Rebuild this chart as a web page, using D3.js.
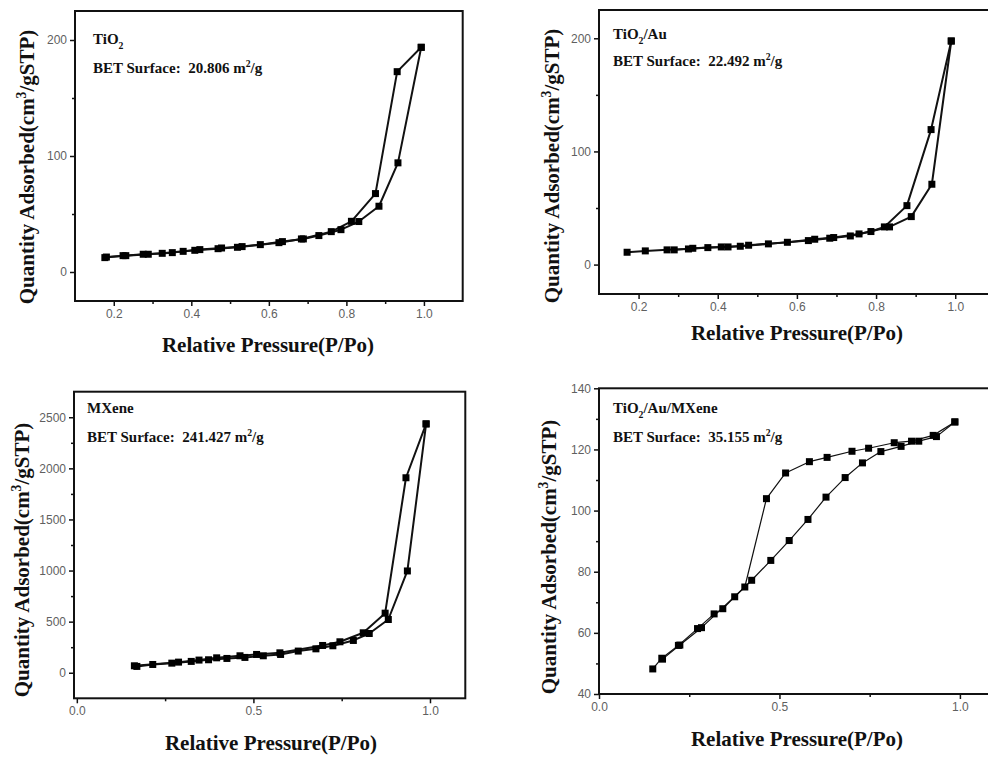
<!DOCTYPE html>
<html><head><meta charset="utf-8">
<script src="https://cdn.jsdelivr.net/npm/d3@7"></script>
<style>
html,body{margin:0;padding:0;background:#fff;}
svg{display:block;}
.tick text{font-family:"Liberation Sans",Arial,sans-serif;font-size:12px;fill:#5f5f5f;}
</style></head>
<body>
<svg id="c" width="988" height="758"></svg>
<script>
// ---------- DATA ----------
// TiO2
const tio2AdsP = [0.177,0.224,0.276,0.325,0.379,0.422,0.478,0.531,0.578,0.635,0.689,0.729,0.786,0.832,0.884,0.933,0.993];
const tio2AdsQ = [12.4,14.1,15.3,16.1,17.8,19.3,20.7,21.9,23.6,26.2,28.5,31.4,36.5,43.5,56.7,94.1,193.7];
const tio2DesP = [0.993,0.931,0.875,0.813,0.761,0.684,0.626,0.519,0.469,0.409,0.351,0.289,0.231,0.181];
const tio2DesQ = [193.7,172.7,67.6,43.7,34.8,28.5,25.3,21.3,20.1,18.7,16.7,15.3,14.1,12.9];
// TiO2/Au
const auAdsP = [0.171,0.217,0.272,0.326,0.375,0.426,0.478,0.576,0.645,0.693,0.757,0.834,0.889,0.941,0.990];
const auAdsQ = [10.9,12.1,13.0,13.8,15.0,15.6,17.1,19.7,22.4,23.9,27.1,33.3,42.4,71.0,197.6];
const auDesP = [0.990,0.939,0.878,0.821,0.787,0.735,0.683,0.629,0.528,0.457,0.409,0.337,0.290];
const auDesQ = [197.6,119.3,52.1,33.3,29.2,25.3,23.3,21.2,18.3,16.2,15.6,14.4,13.0];
// MXene
const mxAdsP = [0.170,0.215,0.269,0.324,0.373,0.425,0.476,0.528,0.577,0.627,0.677,0.725,0.783,0.828,0.882,0.936,0.989];
const mxAdsQ = [62,81,94,111,127,140,150,166,179,212,234,264,316,384,521,996,2435];
const mxDesP = [0.989,0.932,0.873,0.811,0.745,0.696,0.575,0.509,0.462,0.396,0.346,0.288,0.163];
const mxDesQ = [2435,1908,583,391,303,267,195,179,166,146,124,104,68];
// TiO2/Au/MXene
const tamAdsP = [0.149,0.174,0.220,0.273,0.319,0.343,0.376,0.423,0.476,0.527,0.579,0.629,0.682,0.730,0.781,0.837,0.886,0.935,0.986];
const tamAdsQ = [48.2,51.7,55.9,61.4,66.2,67.9,71.8,77.2,83.7,90.2,97.1,104.4,110.8,115.6,119.3,121.0,122.7,124.2,129.0];
const tamDesP = [0.986,0.926,0.866,0.818,0.747,0.701,0.632,0.583,0.517,0.464,0.404,0.284,0.224,0.176];
const tamDesQ = [129.0,124.6,122.7,122.2,120.4,119.4,117.4,116.0,112.3,103.9,75.0,61.7,56.0,51.4];

// tick values
const xTicksA = [0.2,0.4,0.6,0.8,1.0], xMinorA = [0.3,0.5,0.7,0.9];
const xTicksB = [0.0,0.5,1.0], xMinorB = [0.25,0.75];
const yTicksTiO2 = [0,100,200], yMinorTiO2 = [50,150];
const yTicksMX = [0,500,1000,1500,2000,2500], yMinorMX = [250,750,1250,1750,2250];
const yTicksTAM = [40,60,80,100,120,140], yMinorTAM = [50,70,90,110,130];

const sampleNames = ["TiO|2", "TiO|2|/Au", "MXene", "TiO|2|/Au/MXene"];
const betValues = ["20.806","22.492","241.427","35.155"];

// ---------- DRAW ----------
const SERIF = "'Liberation Serif','Times New Roman','DejaVu Serif',serif";
const svg = d3.select("#c");
const zip = (a,b) => a.map((v,i)=>[v,b[i]]);

function richText(sel, parts, size){
  const shiftOf = mm => mm===1 ? size*0.3 : (mm===2 ? -size*0.38 : 0);
  parts.forEach(([t,m],i)=>{
    const prev = i>0 ? parts[i-1][1] : 0;
    const dy = shiftOf(m) - shiftOf(prev);
    sel.append("tspan").attr("dy", dy).attr("font-size", m? size*0.65 : size).text(t);
  });
}

function serifText(g, size){
  return g.append("text").attr("font-family",SERIF).attr("font-weight","bold")
    .attr("fill","#111").attr("font-size",size);
}

function panel(o){
  const g = svg.append("g");
  const x = d3.scaleLinear().domain(o.xd).range([o.l, o.r]);
  const y = d3.scaleLinear().domain(o.yd).range([o.b, o.t]);

  g.append("g").attr("transform",`translate(0,${o.b})`)
    .call(d3.axisBottom(x).tickValues(o.xMinor).tickSize(3).tickFormat(""))
    .call(a=>a.select(".domain").remove());
  g.append("g").attr("transform",`translate(${o.l},0)`)
    .call(d3.axisLeft(y).tickValues(o.yMinor).tickSize(3).tickFormat(""))
    .call(a=>a.select(".domain").remove());
  g.append("g").attr("transform",`translate(0,${o.b})`)
    .call(d3.axisBottom(x).tickValues(o.xTicks).tickSize(5).tickPadding(3).tickFormat(d3.format(".1f")))
    .call(a=>a.select(".domain").remove());
  g.append("g").attr("transform",`translate(${o.l},0)`)
    .call(d3.axisLeft(y).tickValues(o.yTicks).tickSize(5).tickPadding(3).tickFormat(d3.format("d")))
    .call(a=>a.select(".domain").remove());
  g.selectAll(".tick line").attr("stroke","#111").attr("stroke-width",1.5);

  g.append("rect").attr("x",o.l).attr("y",o.t).attr("width",o.r-o.l).attr("height",o.b-o.t)
    .attr("fill","none").attr("stroke","#111").attr("stroke-width",2);

  const line = d3.line().x(d=>x(d[0])).y(d=>y(d[1]));
  o.series.forEach(s=>{
    g.append("path").datum(s).attr("d",line).attr("fill","none")
      .attr("stroke","#111").attr("stroke-width",o.lw).attr("stroke-linejoin","round");
  });
  const ms = 7;
  o.series.forEach(s=>{
    g.selectAll(null).data(s).enter().append("rect")
      .attr("x",d=>x(d[0])-ms/2).attr("y",d=>y(d[1])-ms/2)
      .attr("width",ms).attr("height",ms).attr("fill","#000");
  });

  const fs = 15;
  const nameParts = o.name.split("|").map((t,i)=>[t, i===1?1:0]);
  const t1 = serifText(g,fs).attr("x",o.ax).attr("y",o.ay1);
  richText(t1, nameParts, fs);
  const t2 = serifText(g,fs).attr("x",o.ax).attr("y",o.ay2);
  richText(t2, [["BET Surface:\u00a0\u00a0"+o.bet+" m",0],["2",2],["/g",0]], fs);

  serifText(g,21).attr("text-anchor","middle")
    .attr("x",o.xtx).attr("y",o.xty).text("Relative Pressure(P/Po)");
  const yt = serifText(g,21).attr("text-anchor","middle")
    .attr("transform",`translate(${o.ytx},${o.yty}) rotate(-90)`);
  richText(yt, [["Quantity Adsorbed(cm",0],["3",2],["/gSTP)",0]], 21);
}

panel({l:75,r:462.7,t:11,b:301,xd:[0.1,1.1],yd:[-25,225],
  xTicks:xTicksA,xMinor:xMinorA,yTicks:yTicksTiO2,yMinor:yMinorTiO2,lw:2,
  series:[zip(tio2AdsP,tio2AdsQ),zip(tio2DesP,tio2DesQ)],
  name:sampleNames[0],bet:betValues[0],ax:93,ay1:44,ay2:73,
  xtx:268,xty:352,ytx:34,yty:167});

panel({l:599,r:994.8,t:10,b:294,xd:[0.1,1.1],yd:[-26,225],
  xTicks:xTicksA,xMinor:xMinorA,yTicks:yTicksTiO2,yMinor:yMinorTiO2,lw:2,
  series:[zip(auAdsP,auAdsQ),zip(auDesP,auDesQ)],
  name:sampleNames[1],bet:betValues[1],ax:613,ay1:39,ay2:66,
  xtx:797,xty:340,ytx:559,yty:166});

panel({l:74,r:465.3,t:391.7,b:698.3,xd:[-0.008,1.1],yd:[-250,2750],
  xTicks:xTicksB,xMinor:xMinorB,yTicks:yTicksMX,yMinor:yMinorMX,lw:2,
  series:[zip(mxAdsP,mxAdsQ),zip(mxDesP,mxDesQ)],
  name:sampleNames[2],bet:betValues[2],ax:87,ay1:413,ay2:442,
  xtx:271,xty:750,ytx:29,yty:560});

panel({l:599,r:996,t:388.3,b:694,xd:[0,1.1],yd:[40,140],
  xTicks:xTicksB,xMinor:xMinorB,yTicks:yTicksTAM,yMinor:yMinorTAM,lw:1.2,
  series:[zip(tamAdsP,tamAdsQ),zip(tamDesP,tamDesQ)],
  name:sampleNames[3],bet:betValues[3],ax:613,ay1:413,ay2:442,
  xtx:797,xty:746,ytx:556,yty:557});
</script>
</body></html>
